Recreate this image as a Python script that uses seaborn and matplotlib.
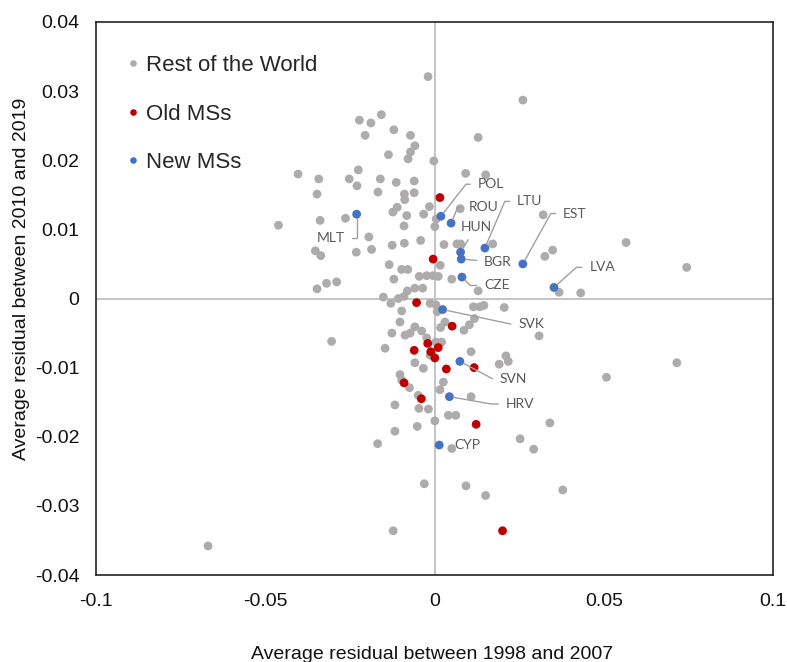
import pandas as pd
import matplotlib
matplotlib.use("Agg")
import matplotlib.pyplot as plt
import seaborn as sns

# average residuals: x = 1998-2007, y = 2010-2019
row_x = [-0.0019, 0.0261, -0.0222, -0.0188, -0.0157, -0.0120, -0.0205, -0.0071, 0.0129, -0.0058,
         -0.0071, -0.0136, -0.0078, -0.0002, -0.0403, -0.0342, -0.0252, -0.0225, -0.0229, -0.0160,
         -0.0113, -0.0060, 0.0092, 0.0151, -0.0347, -0.0167, -0.0089, -0.0060, -0.0088, -0.0110,
         -0.0123, -0.0082, -0.0015, -0.0032, 0.0005, 0.0001, 0.0076, -0.0461, -0.0338, -0.0263,
         -0.0090, -0.0194, -0.0041, -0.0089, -0.0125, -0.0186, -0.0231, -0.0352, -0.0336, 0.0028,
         0.0066, 0.0077, 0.0172, -0.0134, -0.0097, -0.0079, 0.0017, -0.0120, -0.0045, -0.0023,
         -0.0004, 0.0011, 0.0051, -0.0319, -0.0289, -0.0347, -0.0058, -0.0035, 0.0129, 0.0321,
         0.0349, 0.0326, 0.0566, 0.0745, 0.0368, 0.0432, -0.0151, -0.0129, -0.0107, -0.0090,
         -0.0080, -0.0097, -0.0013, 0.0004, 0.0008, 0.0115, 0.0134, 0.0146, 0.0206, 0.0118,
         0.0103, 0.0087, -0.0102, 0.0031, 0.0018, -0.0058, -0.0038, -0.0072, -0.0087, -0.0126,
         -0.0304, -0.0023, 0.0004, 0.0021, -0.0146, -0.0013, 0.0108, -0.0058, -0.0033, 0.0211,
         0.0218, 0.0191, -0.0102, -0.0097, 0.0026, 0.0016, -0.0074, -0.0048, -0.0117, -0.0046,
         -0.0018, 0.0108, 0.0041, 0.0063, 0.0001, -0.0051, -0.0117, -0.0168, 0.0051, 0.0253,
         0.0293, 0.0341, 0.0309, 0.0716, 0.0508, -0.0030, 0.0093, 0.0151, 0.0379, -0.0122,
         -0.0669]
row_y = [0.0321, 0.0287, 0.0258, 0.0254, 0.0266, 0.0244, 0.0236, 0.0236, 0.0233, 0.0221,
         0.0212, 0.0208, 0.0202, 0.0199, 0.0180, 0.0173, 0.0173, 0.0186, 0.0163, 0.0173,
         0.0168, 0.0170, 0.0181, 0.0179, 0.0151, 0.0154, 0.0151, 0.0153, 0.0143, 0.0132,
         0.0125, 0.0120, 0.0133, 0.0122, 0.0115, 0.0104, 0.0130, 0.0106, 0.0113, 0.0116,
         0.0105, 0.0089, 0.0084, 0.0080, 0.0077, 0.0071, 0.0067, 0.0069, 0.0062, 0.0078,
         0.0079, 0.0079, 0.0079, 0.0049, 0.0042, 0.0042, 0.0048, 0.0028, 0.0032, 0.0033,
         0.0033, 0.0032, 0.0028, 0.0022, 0.0024, 0.0014, 0.0015, 0.0015, 0.0011, 0.0121,
         0.0070, 0.0061, 0.0081, 0.0045, 0.0009, 0.0008, 0.0002, -0.0007, 0.0000, 0.0003,
         0.0011, -0.0018, -0.0007, -0.0009, -0.0019, -0.0012, -0.0012, -0.0010, -0.0013, -0.0029,
         -0.0038, -0.0046, -0.0034, -0.0034, -0.0042, -0.0041, -0.0047, -0.0050, -0.0053, -0.0050,
         -0.0062, -0.0057, -0.0063, -0.0063, -0.0072, -0.0082, -0.0077, -0.0093, -0.0101, -0.0083,
         -0.0091, -0.0095, -0.0110, -0.0118, -0.0121, -0.0132, -0.0129, -0.0140, -0.0154, -0.0159,
         -0.0160, -0.0142, -0.0169, -0.0169, -0.0177, -0.0185, -0.0192, -0.0210, -0.0217, -0.0203,
         -0.0218, -0.0180, -0.0054, -0.0093, -0.0114, -0.0268, -0.0271, -0.0285, -0.0277, -0.0336,
         -0.0358]

old_x = [0.0016, -0.0004, -0.0053, 0.0052, -0.0020, -0.0060, -0.0011, 0.0011, 0.0001, 0.0035,
         0.0117, -0.0090, -0.0039, 0.0123, 0.0201]
old_y = [0.0146, 0.0057, -0.0006, -0.0040, -0.0065, -0.0075, -0.0077, -0.0071, -0.0086, -0.0102,
         -0.0100, -0.0122, -0.0145, -0.0182, -0.0336]

new_names = ["MLT", "POL", "ROU", "HUN", "BGR", "CZE", "LTU", "EST", "LVA", "SVK", "SVN", "HRV", "CYP"]
new_x = [-0.0230, 0.0019, 0.0049, 0.0077, 0.0079, 0.0081, 0.0149, 0.0261, 0.0353, 0.0024, 0.0075, 0.0044, 0.0014]
new_y = [0.0122, 0.0119, 0.0109, 0.0067, 0.0057, 0.0031, 0.0073, 0.0050, 0.0016, -0.0016, -0.0091, -0.0142, -0.0212]

groups = ["Rest of the World", "Old MSs", "New MSs"]
colors = {"Rest of the World": "#ADABAB", "Old MSs": "#C00000", "New MSs": "#4472C4"}

df = pd.concat([
    pd.DataFrame({"x": row_x, "y": row_y, "grp": groups[0]}),
    pd.DataFrame({"x": old_x, "y": old_y, "grp": groups[1]}),
    pd.DataFrame({"x": new_x, "y": new_y, "grp": groups[2]}),
], ignore_index=True)

# label placement: offset of text from point (px, y up), leader angle at the point
lab_pos = {
    "MLT": (-11.7, -24.0, 90, "right"),
    "POL": (36.7, 32.0, 52, "left"),
    "ROU": (17.3, 15.8, 67, "left"),
    "HUN": (0.0, 25.3, None, "left"),
    "BGR": (23.0, -3.0, None, "left"),
    "CZE": (22.3, -8.4, -45, "left"),
    "LTU": (32.3, 46.6, 67, "left"),
    "EST": (40.2, 50.4, 61, "left"),
    "LVA": (35.3, 20.1, 42, "left"),
    "SVK": (75.6, -14.7, -12, "left"),
    "SVN": (40.0, -17.8, -28, "left"),
    "HRV": (56.4, -7.3, -10, "left"),
    "CYP": (14.7, 0.0, "none", "left"),
}

sns.set_style("white")
plt.rcParams["font.family"] = ["Liberation Sans", "DejaVu Sans"]

fig = plt.figure(figsize=(7.87, 6.62), dpi=100)
ax = fig.add_axes([96 / 787, 1 - 575 / 662, 677 / 787, 553 / 662])

ax.axhline(0, color="#BFBFBF", lw=1.3, zorder=0)
ax.axvline(0, color="#BFBFBF", lw=1.3, zorder=0)

sns.scatterplot(data=df, x="x", y="y", hue="grp", hue_order=groups, palette=colors,
                s=40, linewidth=0, ax=ax, zorder=3)

ax.set_xlim(-0.1, 0.1)
ax.set_ylim(-0.04, 0.04)
ax.set_xticks([-0.1, -0.05, 0, 0.05, 0.1])
ax.set_xticklabels(["-0.1", "-0.05", "0", "0.05", "0.1"])
ax.set_yticks([-0.04, -0.03, -0.02, -0.01, 0, 0.01, 0.02, 0.03, 0.04])
ax.set_yticklabels(["-0.04", "-0.03", "-0.02", "-0.01", "0", "0.01", "0.02", "0.03", "0.04"])
ax.tick_params(axis="both", length=0, labelsize=14, colors="#111111")
ax.tick_params(axis="x", pad=13)
ax.tick_params(axis="y", pad=12)
for sp in ax.spines.values():
    sp.set_color("#222222")
    sp.set_linewidth(1.2)
ax.set_xlabel("")
ax.set_ylabel("")

fig.text(432 / 787, 1 - 659 / 662, "Average residual between 1998 and 2007",
         ha="center", va="baseline", fontsize=14, color="#111111")
fig.text(22 / 787, 1 - 279 / 662, "Average residual between 2010 and 2019",
         ha="center", va="center", rotation=90, fontsize=14, color="#111111")

for name, px, py in zip(new_names, new_x, new_y):
    ox, oy, ang, ha = lab_pos[name]
    kw = dict(xy=(px, py), xytext=(ox * 0.72, oy * 0.72), textcoords="offset points",
              ha=ha, va="center", fontsize=10, color="#595959", family=["Lato", "DejaVu Sans"],
              zorder=5)
    if ang == "none":
        ax.annotate(name, **kw)
        continue
    if ang is None:
        cs = "arc3,rad=0"
    else:
        cs = f"angle,angleA=0,angleB={ang},rad=0"
    ax.annotate(name, arrowprops=dict(arrowstyle="-", color="#A0A0A0", lw=1.0,
                                      connectionstyle=cs, shrinkA=3, shrinkB=3),
                **kw)

leg = ax.legend(loc="upper left", bbox_to_anchor=(0.032, 0.956), frameon=False,
                fontsize=16, markerscale=0.75, handlelength=0.6, handletextpad=0.26,
                labelspacing=1.23, borderaxespad=0)

fig.savefig("out.png", dpi=100)
